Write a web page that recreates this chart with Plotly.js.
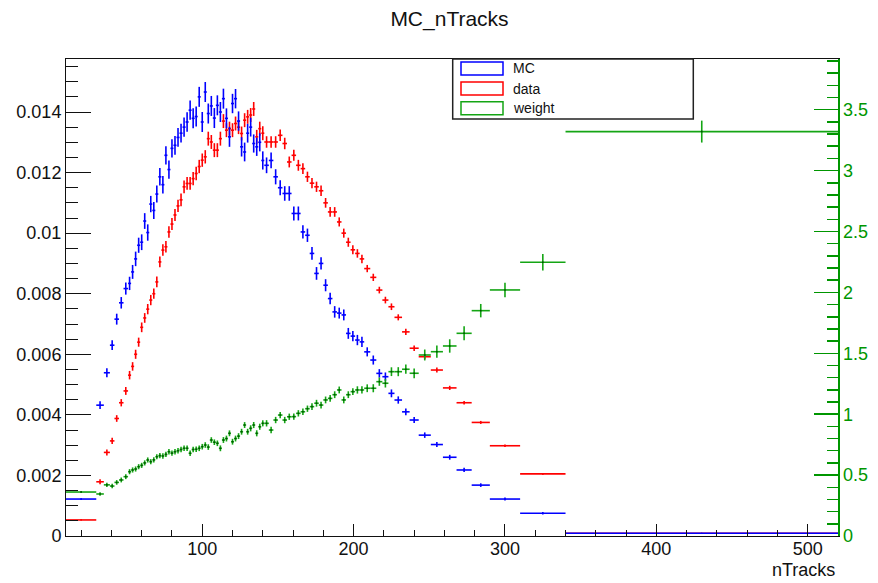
<!DOCTYPE html>
<html>
<head>
<meta charset="utf-8">
<script src="https://cdn.plot.ly/plotly-3.0.1.min.js"></script>
<style>
  html, body { margin: 0; padding: 0; background: #fff; }
  #chart { width: 878px; height: 583px; }
</style>
</head>
<body>
<div id="chart"></div>
<script>
// ---------------- DATA ----------------
// variable bin edges (nTracks)
const binEdges = [10,30,35,39,42,45,48,51,
  53,55,57,59,61,63,65,67,69,71,73,75,77,79,81,83,85,87,89,91,93,95,97,99,101,103,105,107,109,111,113,115,117,119,121,123,125,127,129,131,133,135,137,139,141,
  144,147,150,153,156,159,162,165,168,171,174,177,180,183,186,189,192,195,198,201,204,207,
  211,215,219,223,227,232,237,243,251,259,268,278,290,310,340,520];

// MC (blue), left axis
const mcValues = [
  0.00122, 0.00432, 0.00539, 0.00630, 0.00716, 0.00770, 0.00817,
  0.00834, 0.00872, 0.00915, 0.00960, 0.00970, 0.01040, 0.01002, 0.01096, 0.01075, 0.01129,
  0.01186, 0.01160, 0.01257, 0.01210, 0.01280, 0.01290, 0.01316, 0.01330, 0.01350, 0.01367,
  0.01406, 0.01379, 0.01385, 0.01450, 0.01367, 0.01466, 0.01395, 0.01420, 0.01380, 0.01422,
  0.01400, 0.01444, 0.01379, 0.01318, 0.01428, 0.01444, 0.01370, 0.01285, 0.01268, 0.01330,
  0.01350, 0.01296, 0.01285, 0.01300, 0.01240,
  0.01224, 0.01240, 0.01186, 0.01150, 0.01131, 0.01131, 0.01065, 0.01065, 0.01004, 0.00993,
  0.00933, 0.00867, 0.00900, 0.00828, 0.00784, 0.00740, 0.00736, 0.00730, 0.00669, 0.00660,
  0.00647, 0.00641,
  0.00608, 0.00581, 0.00537, 0.00526, 0.00471, 0.00449, 0.00410, 0.00383, 0.00333, 0.00302,
  0.00260, 0.00218, 0.00168, 0.00122, 0.00075, 0.00009
];
const mcErrors = [
  0.00003, 0.00013, 0.00015, 0.00016, 0.00018, 0.00019, 0.00020,
  0.00022, 0.00023, 0.00024, 0.00025, 0.00026, 0.00026, 0.00027, 0.00027, 0.00028, 0.00028,
  0.00029, 0.00029, 0.00030, 0.00030, 0.00030, 0.00031, 0.00031, 0.00031, 0.00032, 0.00032,
  0.00032, 0.00033, 0.00033, 0.00033, 0.00033, 0.00033, 0.00033, 0.00033, 0.00033, 0.00033,
  0.00033, 0.00033, 0.00033, 0.00033, 0.00032, 0.00032, 0.00032, 0.00032, 0.00031, 0.00031,
  0.00031, 0.00030, 0.00030, 0.00030, 0.00030,
  0.00026, 0.00026, 0.00025, 0.00025, 0.00024, 0.00024, 0.00023, 0.00023, 0.00022, 0.00022,
  0.00021, 0.00021, 0.00020, 0.00020, 0.00019, 0.00019, 0.00018, 0.00018, 0.00018, 0.00017,
  0.00017, 0.00017,
  0.00015, 0.00015, 0.00014, 0.00014, 0.00013, 0.00012, 0.00011, 0.00010, 0.00009, 0.00008,
  0.00008, 0.00007, 0.00006, 0.00005, 0.00004, 0.00001
];

// data (red), left axis
const dataValues = [
  0.00053, 0.00179, 0.00276, 0.00314, 0.00388, 0.00440, 0.00479,
  0.00531, 0.00560, 0.00600, 0.00640, 0.00689, 0.00720, 0.00749, 0.00779, 0.00800, 0.00839,
  0.00905, 0.00944, 0.00955, 0.01004, 0.01030, 0.01060, 0.01090, 0.01110, 0.01153, 0.01164,
  0.01164, 0.01180, 0.01197, 0.01220, 0.01241, 0.01252, 0.01312, 0.01301, 0.01274, 0.01274,
  0.01312, 0.01370, 0.01340, 0.01345, 0.01340, 0.01362, 0.01350, 0.01329, 0.01373, 0.01384,
  0.01390, 0.01410, 0.01318, 0.01345, 0.01330,
  0.01301, 0.01301, 0.01301, 0.01323, 0.01296, 0.01235, 0.01257, 0.01224, 0.01213, 0.01186,
  0.01165, 0.01153, 0.01140, 0.01100, 0.01070, 0.01070, 0.01037, 0.01000, 0.00970, 0.00945,
  0.00933, 0.00915,
  0.00883, 0.00854, 0.00812, 0.00779, 0.00757, 0.00722, 0.00674, 0.00620, 0.00592, 0.00548,
  0.00489, 0.00440, 0.00375, 0.00298, 0.00205, 0.00009
];
const dataErrors = [
  0.00002, 0.00008, 0.00010, 0.00010, 0.00011, 0.00012, 0.00013,
  0.00014, 0.00014, 0.00015, 0.00015, 0.00016, 0.00016, 0.00017, 0.00017, 0.00017, 0.00018,
  0.00018, 0.00019, 0.00019, 0.00019, 0.00020, 0.00020, 0.00020, 0.00021, 0.00021, 0.00021,
  0.00021, 0.00022, 0.00022, 0.00022, 0.00022, 0.00022, 0.00023, 0.00023, 0.00023, 0.00023,
  0.00023, 0.00023, 0.00023, 0.00023, 0.00023, 0.00023, 0.00023, 0.00023, 0.00023, 0.00023,
  0.00023, 0.00023, 0.00023, 0.00023, 0.00023,
  0.00019, 0.00019, 0.00019, 0.00019, 0.00019, 0.00018, 0.00018, 0.00018, 0.00018, 0.00017,
  0.00017, 0.00017, 0.00017, 0.00016, 0.00016, 0.00016, 0.00015, 0.00015, 0.00015, 0.00015,
  0.00014, 0.00014,
  0.00012, 0.00012, 0.00011, 0.00011, 0.00011, 0.00010, 0.00010, 0.00009, 0.00008, 0.00008,
  0.00007, 0.00006, 0.00005, 0.00004, 0.00003, 0.00001
];

// weight (green), right axis
const weightValues = [
  0.361, 0.345, 0.420, 0.410, 0.440, 0.460, 0.487,
  0.528, 0.542, 0.550, 0.569, 0.580, 0.600, 0.624, 0.610, 0.625, 0.651,
  0.660, 0.657, 0.670, 0.692, 0.680, 0.692, 0.700, 0.710, 0.720, 0.720,
  0.679, 0.710, 0.712, 0.720, 0.733, 0.747, 0.730, 0.788, 0.770, 0.761,
  0.720, 0.788, 0.800, 0.843, 0.774, 0.800, 0.820, 0.856, 0.911, 0.856,
  0.884, 0.911, 0.843, 0.897, 0.925,
  0.925, 0.870, 0.952, 0.993, 0.952, 0.979, 0.980, 1.007, 1.020, 1.045,
  1.062, 1.090, 1.075, 1.117, 1.130, 1.160, 1.199, 1.117, 1.160, 1.185,
  1.199, 1.199,
  1.213, 1.213, 1.267, 1.254, 1.349, 1.349, 1.369, 1.336, 1.486, 1.513,
  1.560, 1.664, 1.850, 2.020, 2.247, 3.320
];
const weightErrors = [
  0.008, 0.015, 0.018, 0.018, 0.019, 0.020, 0.020,
  0.021, 0.021, 0.021, 0.021, 0.021, 0.021, 0.021, 0.021, 0.021, 0.021,
  0.022, 0.022, 0.022, 0.022, 0.022, 0.022, 0.022, 0.022, 0.022, 0.022,
  0.023, 0.023, 0.023, 0.023, 0.023, 0.023, 0.023, 0.023, 0.023, 0.023,
  0.024, 0.024, 0.024, 0.024, 0.024, 0.024, 0.024, 0.024, 0.024, 0.024,
  0.025, 0.025, 0.025, 0.025, 0.025,
  0.026, 0.026, 0.026, 0.026, 0.026, 0.026, 0.026, 0.026, 0.026, 0.026,
  0.028, 0.028, 0.028, 0.028, 0.028, 0.028, 0.028, 0.028, 0.028, 0.028,
  0.030, 0.030,
  0.032, 0.033, 0.034, 0.035, 0.036, 0.037, 0.038, 0.040, 0.045, 0.050,
  0.055, 0.057, 0.055, 0.060, 0.068, 0.090
];

const seriesNames = ['MC', 'data', 'weight'];
const leftTickVals = [0, 0.002, 0.004, 0.006, 0.008, 0.01, 0.012, 0.014];
const leftTickText = ['0', '0.002', '0.004', '0.006', '0.008', '0.01', '0.012', '0.014'];
const rightTickVals = [0, 0.5, 1, 1.5, 2, 2.5, 3, 3.5];
const rightTickText = ['0', '0.5', '1', '1.5', '2', '2.5', '3', '3.5'];

// ---------------- DERIVED ----------------
const centers = [], halfWidths = [];
for (let i = 0; i < binEdges.length - 1; i++) {
  centers.push((binEdges[i] + binEdges[i + 1]) / 2);
  halfWidths.push((binEdges[i + 1] - binEdges[i]) / 2);
}

const FONT = 'Liberation Sans, Arial, Helvetica, sans-serif';
const BLUE = 'rgb(0,0,255)', RED = 'rgb(255,0,0)', GREEN = 'rgb(20,165,20)', GREEN_AX = 'rgb(0,150,0)';

function histTrace(y, err, color, yaxis, mcolor, msize) {
  return {
    x: centers, y: y, type: 'scatter', mode: 'markers', yaxis: yaxis,
    marker: { size: msize, color: mcolor, symbol: 'square' },
    error_y: { type: 'data', array: err, visible: true, color: color, thickness: 1.6, width: 0 },
    error_x: { type: 'data', array: halfWidths, visible: true, color: color, thickness: 1.6, width: 0 },
    showlegend: false, hoverinfo: 'skip', cliponaxis: true
  };
}

// data drawn first, MC on top of it, weight last
const traces = [
  histTrace(dataValues, dataErrors, RED, 'y', RED, 1),
  histTrace(mcValues, mcErrors, BLUE, 'y', BLUE, 1),
  histTrace(weightValues, weightErrors, GREEN, 'y2', 'rgb(0,80,0)', 1.6)
];

// plot area in px: left 66, right 838, top 59, bottom 536
const L = 66, R = 838, T = 59, B = 536, W = 878, H = 583;
const px = v => (v - L) / (R - L);
const py = v => (B - v) / (B - T);

const legendColors = [BLUE, RED, GREEN];
const legendRowsY = [68.5, 88.5, 108.2];
const shapes = [{
  type: 'rect', xref: 'paper', yref: 'paper',
  x0: px(452.7), x1: px(693.3), y0: py(119), y1: py(59),
  line: { color: '#222', width: 1.5 }, fillcolor: '#fff', layer: 'above'
}];
const annotations = [];
seriesNames.forEach((name, i) => {
  shapes.push({
    type: 'rect', xref: 'paper', yref: 'paper',
    x0: px(461), x1: px(503), y0: py(legendRowsY[i] + 6.5), y1: py(legendRowsY[i] - 6.5),
    line: { color: legendColors[i], width: 1.5 }, fillcolor: 'rgba(0,0,0,0)', layer: 'above'
  });
  annotations.push({
    xref: 'paper', yref: 'paper', x: px(511), y: py(legendRowsY[i]),
    xanchor: 'left', yanchor: 'middle', showarrow: false, text: name,
    font: { family: FONT, size: 14, color: '#111' }
  });
});
annotations.push({
  xref: 'paper', yref: 'paper', x: px(837), y: py(570),
  xanchor: 'right', yanchor: 'middle', showarrow: false, text: 'nTracks',
  font: { family: FONT, size: 18, color: '#111' }
});

const layout = {
  width: W, height: H,
  margin: { l: L, r: W - R, t: T, b: H - B, pad: 0 },
  paper_bgcolor: '#fff', plot_bgcolor: '#fff',
  font: { family: FONT, color: '#111' },
  title: {
    text: 'MC_nTracks', x: 449.5 / W, xanchor: 'center', xref: 'container',
    y: 1 - 19 / H, yanchor: 'middle', yref: 'container',
    font: { family: FONT, size: 21, color: '#111' }
  },
  xaxis: {
    range: [10, 520], showgrid: false, zeroline: false,
    showline: true, linecolor: '#111', linewidth: 1, mirror: true,
    ticks: 'inside', ticklen: 12, tickwidth: 1, tickcolor: '#111',
    tick0: 0, dtick: 100,
    minor: { dtick: 20, tick0: 0, ticks: 'inside', ticklen: 6, tickwidth: 1, tickcolor: '#111', showgrid: false },
    tickfont: { family: FONT, size: 18, color: '#111' },
    ticklabelstandoff: -4
  },
  yaxis: {
    range: [0, 0.01575], showgrid: false, zeroline: false,
    showline: true, linecolor: '#111', linewidth: 1,
    ticks: 'inside', ticklen: 25, tickwidth: 1, tickcolor: '#111',
    tickmode: 'array', tickvals: leftTickVals, ticktext: leftTickText,
    minor: { dtick: 0.0005, tick0: 0, ticks: 'inside', ticklen: 12, tickwidth: 1, tickcolor: '#111', showgrid: false },
    tickfont: { family: FONT, size: 18, color: '#111' }
  },
  yaxis2: {
    overlaying: 'y', side: 'right', anchor: 'x',
    range: [0, 3.916], showgrid: false, zeroline: false,
    showline: true, linecolor: GREEN_AX, linewidth: 1.5,
    ticks: 'inside', ticklen: 24, tickwidth: 1.5, tickcolor: GREEN_AX,
    tickmode: 'array', tickvals: rightTickVals, ticktext: rightTickText,
    minor: { dtick: 0.1, tick0: 0, ticks: 'inside', ticklen: 11, tickwidth: 1.5, tickcolor: GREEN_AX, showgrid: false },
    tickfont: { family: FONT, size: 18, color: GREEN_AX }
  },
  shapes: shapes,
  annotations: annotations,
  showlegend: false
};

Plotly.newPlot('chart', traces, layout, { staticPlot: true, displayModeBar: false });
</script>
</body>
</html>
